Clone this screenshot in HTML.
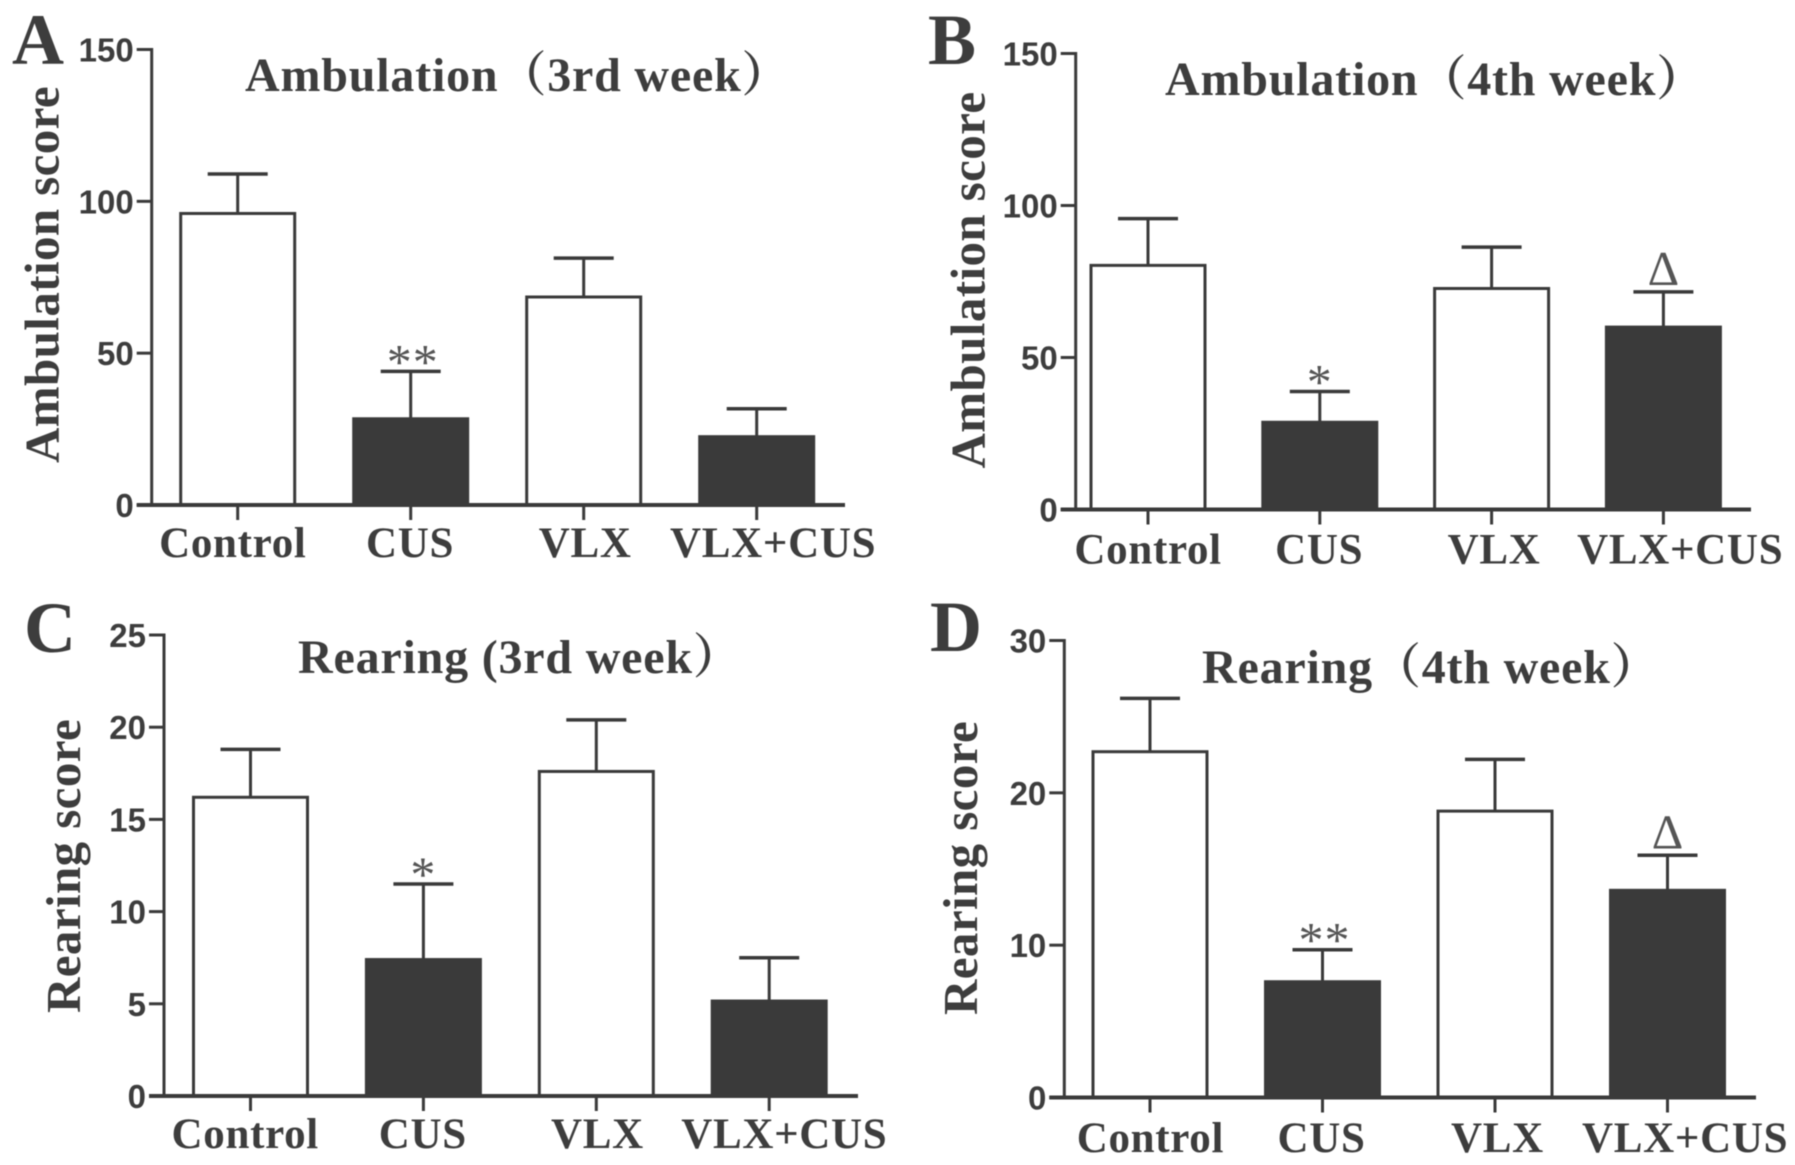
<!DOCTYPE html>
<html lang="en">
<head>
<meta charset="utf-8">
<title>Ambulation and rearing scores</title>
<style>
html,body{margin:0;padding:0;background:#fff;}
svg{display:block;filter:blur(0.5px);}
.serif{font-family:"Liberation Serif","Noto Serif CJK SC",serif;font-weight:bold;fill:#3d3d3d;}
.sans{font-family:"Liberation Sans",sans-serif;font-weight:bold;fill:#3d3d3d;}
.mark{font-family:"Liberation Serif",serif;font-weight:normal;fill:#555;}
</style>
</head>
<body>
<svg id="figure" xmlns="http://www.w3.org/2000/svg" width="1795" height="1165" viewBox="0 0 1795 1165"></svg>
<script>
// Shared categories
const categories = ['Control', 'CUS', 'VLX', 'VLX+CUS'];

// Panel A
const ambulation3Means = [96, 28.4, 68.5, 22.5];
const ambulation3Errors = [13, 15.6, 12.8, 9.2];
const ambulation3Marks = ['', '**', '', ''];
const ambulationTicks = [0, 50, 100, 150];

// Panel B
const ambulation4Means = [80.3, 28.7, 72.7, 60];
const ambulation4Errors = [15.4, 10.1, 13.6, 11.6];
const ambulation4Marks = ['', '*', '', 'Δ'];

// Panel C
const rearing3Means = [16.2, 7.4, 17.6, 5.15];
const rearing3Errors = [2.6, 4.1, 2.8, 2.35];
const rearing3Marks = ['', '*', '', ''];
const rearing3Ticks = [0, 5, 10, 15, 20, 25];

// Panel D
const rearing4Means = [22.7, 7.6, 18.8, 13.6];
const rearing4Errors = [3.5, 2.1, 3.4, 2.3];
const rearing4Marks = ['', '**', '', 'Δ'];
const rearing4Ticks = [0, 10, 20, 30];

const svg = document.getElementById('figure');
const NS = 'http://www.w3.org/2000/svg';
const DARK = '#3a3a3a';

function make(parent, tag, props, text) {
  const el = document.createElementNS(NS, tag);
  for (const k in props) el.setAttribute(k, props[k]);
  if (text !== undefined) el.textContent = text;
  parent.appendChild(el);
  return el;
}

function drawPanel(p) {
  const g = make(svg, 'g', {});
  
  

  const yScale = v => p.y0 - (v / p.max) * (p.y0 - p.yTop);
  const xScale = i => p.cx0 + i * p.step;

  const letter = make(g, 'text', {x: p.letterX, y: p.letterY, class: 'serif', 'font-size': 72}, p.letter);
  
  

  const title = make(g, 'text', {x: p.titleX, y: p.titleY, class: 'serif', 'font-size': 48, 'letter-spacing': 0.8}, p.title);
  
  

  const yTitle = make(g, 'text', {class: 'serif', 'font-size': 49, 'letter-spacing': 0.4, transform: 'translate(' + p.yTitleX + ',' + p.yTitleY + ') rotate(-90)'}, p.yTitle);
  
  

  p.means.forEach((m, i) => {
    const cx = xScale(i);
    const top = yScale(m);
    const errTop = yScale(m + p.errors[i]);

    const stem = make(g, 'line', {x1: cx, x2: cx, y1: top, y2: errTop, stroke: DARK, 'stroke-width': 3});
    
    

    const cap = make(g, 'line', {x1: cx - 30, x2: cx + 30, y1: errTop, y2: errTop, stroke: DARK, 'stroke-width': 3.5});
    
    

    const filled = i % 2 === 1;
    const bar = make(g, 'rect', {x: cx - 57, y: top, width: 114, height: p.y0 - top, fill: filled ? DARK : '#fff', stroke: DARK, 'stroke-width': 3});
    
    

    const tick = make(g, 'line', {x1: cx, x2: cx, y1: p.y0, y2: p.y0 + 15, stroke: DARK, 'stroke-width': 3});
    
    

    const label = make(g, 'text', {x: cx + p.labelDx[i], y: p.labelY, class: 'serif', 'font-size': 43, 'letter-spacing': 0.7}, categories[i]);
    
    

    const markText = p.marks[i];
    if (markText === 'Δ') {
      const mark = make(g, 'text', {x: cx, y: errTop - 7, class: 'mark', 'font-size': 49, 'text-anchor': 'middle'}, markText);
      
      
    } else if (markText) {
      const mark = make(g, 'text', {x: cx + (markText.length > 1 ? 2 : 0), y: errTop + 7, class: 'mark', 'font-size': 50, 'letter-spacing': 1, 'text-anchor': 'middle'}, markText);
      
      
    }
  });

  const yAxis = make(g, 'line', {x1: p.axisX, x2: p.axisX, y1: p.yTop - 1.5, y2: p.y0, stroke: DARK, 'stroke-width': 3});
  
  

  const xAxis = make(g, 'line', {x1: p.axisX - 15, x2: p.xEnd, y1: p.y0, y2: p.y0, stroke: DARK, 'stroke-width': 4});
  
  

  p.ticks.forEach(t => {
    const y = yScale(t);
    const tick = make(g, 'line', {x1: p.axisX - 15, x2: p.axisX, y1: y, y2: y, stroke: DARK, 'stroke-width': 3});
    
    

    const label = make(g, 'text', {x: p.axisX - 18, y: y + 12, class: 'sans', 'font-size': 33, 'text-anchor': 'end'}, String(t));
    
    
  });
}

drawPanel({
  letter: 'A', letterX: 12, letterY: 64,
  title: 'Ambulation（3rd week）', titleX: 245, titleY: 91,
  yTitle: 'Ambulation score', yTitleX: 58.5, yTitleY: 463,
  means: ambulation3Means, errors: ambulation3Errors, marks: ambulation3Marks, ticks: ambulationTicks,
  max: 150, axisX: 151.7, xEnd: 845, yTop: 49.5, y0: 505,
  cx0: 237.7, step: 173, labelY: 557, labelDx: [-78.6, -44.7, -45, -86.7]
});

drawPanel({
  letter: 'B', letterX: 928, letterY: 64,
  title: 'Ambulation（4th week）', titleX: 1165, titleY: 95,
  yTitle: 'Ambulation score', yTitleX: 984.5, yTitleY: 468.5,
  means: ambulation4Means, errors: ambulation4Errors, marks: ambulation4Marks, ticks: ambulationTicks,
  max: 150, axisX: 1075.7, xEnd: 1751, yTop: 53.5, y0: 509.5,
  cx0: 1148, step: 171.8, labelY: 563.5, labelDx: [-73.6, -44.7, -44, -86.3]
});

drawPanel({
  letter: 'C', letterX: 24, letterY: 652,
  title: 'Rearing (3rd week）', titleX: 298, titleY: 673,
  yTitle: 'Rearing score', yTitleX: 80, yTitleY: 1013,
  means: rearing3Means, errors: rearing3Errors, marks: rearing3Marks, ticks: rearing3Ticks,
  max: 25, axisX: 164, xEnd: 858, yTop: 635, y0: 1096,
  cx0: 250.5, step: 172.9, labelY: 1148, labelDx: [-79, -44.6, -45.3, -88]
});

drawPanel({
  letter: 'D', letterX: 930, letterY: 651,
  title: 'Rearing（4th week）', titleX: 1202, titleY: 683,
  yTitle: 'Rearing score', yTitleX: 977, yTitleY: 1015,
  means: rearing4Means, errors: rearing4Errors, marks: rearing4Marks, ticks: rearing4Ticks,
  max: 30, axisX: 1064.3, xEnd: 1756, yTop: 640.5, y0: 1097.5,
  cx0: 1150, step: 172.5, labelY: 1152, labelDx: [-73.3, -45, -44, -85.5]
});
</script>
</body>
</html>
